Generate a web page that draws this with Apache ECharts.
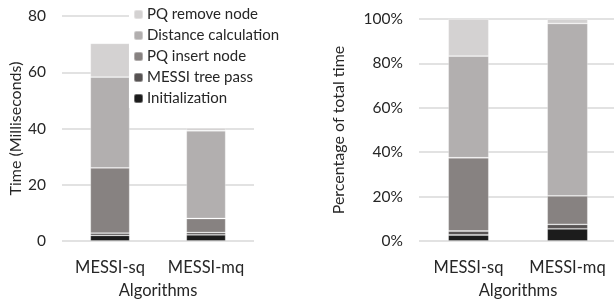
<!DOCTYPE html>
<html>
<head>
<meta charset="utf-8">
<script src="https://cdn.jsdelivr.net/npm/echarts@6/dist/echarts.min.js"></script>
<style>
  html, body { margin: 0; padding: 0; background: #fff; }
  #chart { width: 614px; height: 302px; }
</style>
</head>
<body>
<div id="chart"></div>
<script>
// data
const categories = ["MESSI-sq", "MESSI-mq"];
const stackNames = ["Initialization", "MESSI tree pass", "PQ insert node", "Distance calculation", "PQ remove node"];

// left chart: milliseconds
const msInit = [2.0, 2.2];
const msTreePass = [0.8, 0.8];
const msInsert = [23.2, 5.0];
const msDistance = [32.3, 31.2];
const msRemove = [12.0, 1.0];

// right chart: percentage of total time
const pctInit = [2.7, 5.5];
const pctTreePass = [1.8, 2.0];
const pctInsert = [33.0, 12.8];
const pctDistance = [45.8, 77.7];
const pctRemove = [16.7, 2.0];

const msTicks = [0, 20, 40, 60, 80];
const pctTicks = [0, 20, 40, 60, 80, 100];

const colors = ["#1c1c1c", "#575353", "#878281", "#b2afaf", "#d4d2d2"];
const font = "Lato, 'Open Sans', sans-serif";
const textColor = "#262626";

const msData = [msInit, msTreePass, msInsert, msDistance, msRemove];
const pctData = [pctInit, pctTreePass, pctInsert, pctDistance, pctRemove];

var chart = echarts.init(document.getElementById("chart"));

const makeSeries = (data, idx, stack) =>
  data.map((vals, i) => ({
    name: stackNames[i],
    type: "bar",
    stack: stack,
    xAxisIndex: idx,
    yAxisIndex: idx,
    barWidth: "41%",
    data: vals,
    itemStyle: { color: colors[i], borderColor: "rgba(255,255,255,0.35)", borderWidth: 0.8 },
    emphasis: { disabled: true },
  }));

const xAxisCommon = {
  type: "category",
  data: categories,
  axisLine: { show: false },
  axisTick: { show: false },
  axisLabel: { color: textColor, fontSize: 16.5, fontFamily: font, margin: 18, interval: 0, hideOverlap: false },
  name: "Algorithms",
  nameLocation: "middle",
  nameGap: 41,
  nameTextStyle: { color: textColor, fontSize: 16.5, fontFamily: font },
};

const yAxisCommon = {
  type: "value",
  min: 0,
  interval: 20,
  axisLine: { show: false },
  axisTick: { show: false },
  splitLine: { lineStyle: { color: "#d9d9d9", width: 1.5 } },
  nameLocation: "middle",
  nameTextStyle: { color: textColor, fontSize: 16, fontFamily: font },
};

let option = {
  animation: false,
  legend: {
    orient: "vertical",
    left: 129,
    top: 5,
    itemWidth: 9,
    itemHeight: 9,
    itemGap: 6,
    backgroundColor: "#fff",
    padding: [2, 2, 2, 4],
    data: stackNames.slice().reverse(),
    textStyle: { color: textColor, fontSize: 15, fontFamily: font, padding: [0, 0, 0, -1] },
  },
  grid: [
    { left: 62, right: 360, top: 16, bottom: 61, outerBoundsMode: "none", containLabel: false },
    { left: 419, right: -3, top: 19, bottom: 61, outerBoundsMode: "none", containLabel: false },
  ],
  xAxis: [
    Object.assign({ gridIndex: 0 }, xAxisCommon),
    Object.assign({ gridIndex: 1 }, xAxisCommon),
  ],
  yAxis: [
    Object.assign({}, yAxisCommon, {
      gridIndex: 0,
      max: msTicks[msTicks.length - 1],
      name: "Time (Milliseconds)",
      nameGap: 38,
      axisLabel: { color: textColor, fontSize: 15.5, fontFamily: font, margin: 16 },
    }),
    Object.assign({}, yAxisCommon, {
      gridIndex: 1,
      max: pctTicks[pctTicks.length - 1],
      name: "Percentage of total time",
      nameGap: 72,
      axisLabel: { color: textColor, fontSize: 15.5, fontFamily: font, margin: 16, formatter: "{value}%" },
    }),
  ],
  series: makeSeries(msData, 0, "ms").concat(makeSeries(pctData, 1, "pct")),
};

chart.setOption(option);
</script>
</body>
</html>
